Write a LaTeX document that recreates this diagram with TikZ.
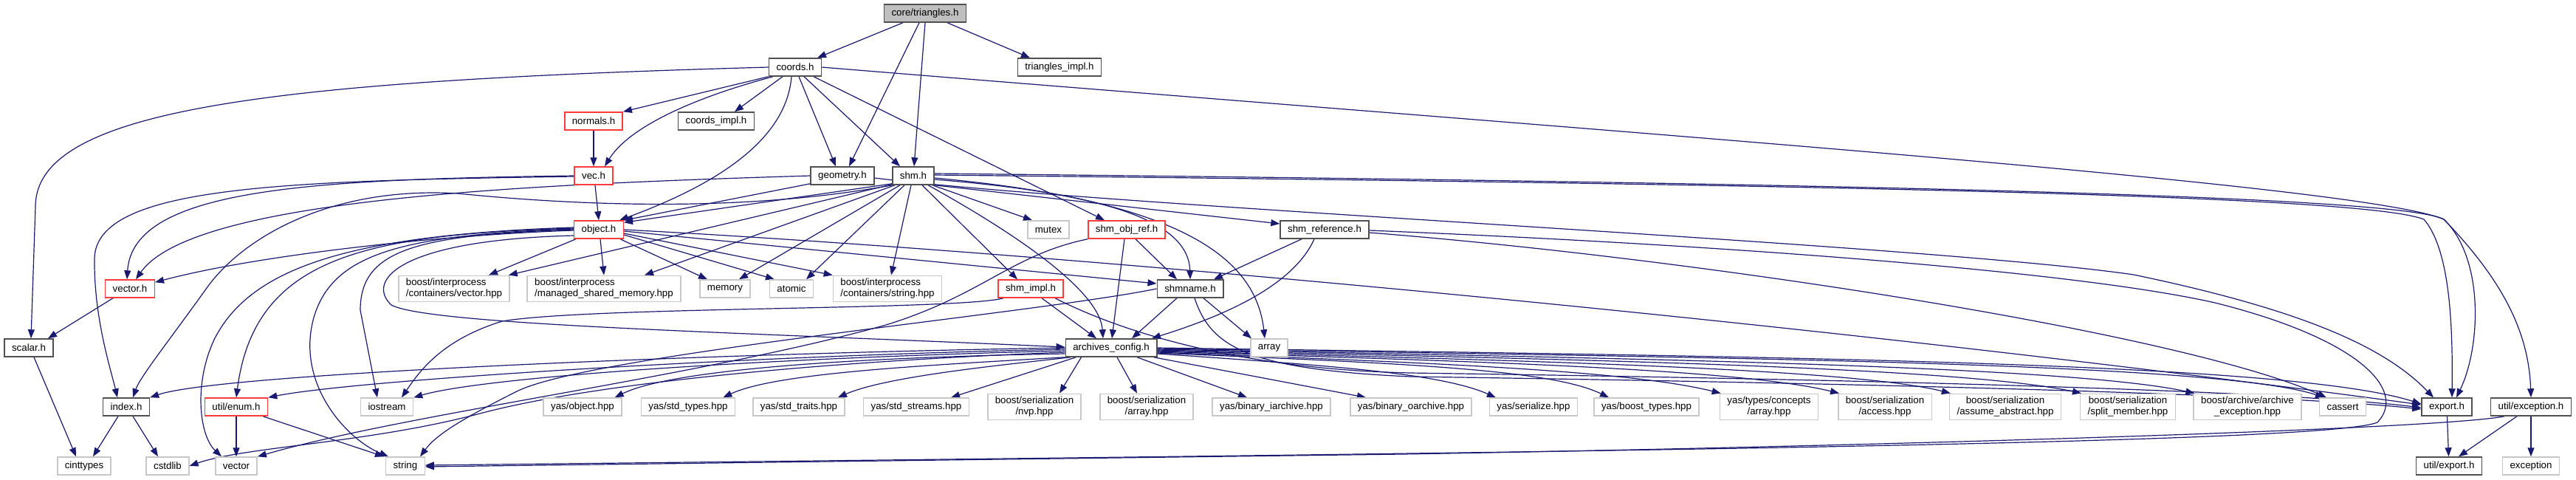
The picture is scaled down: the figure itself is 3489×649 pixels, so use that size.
\documentclass[tikz,border=0pt]{standalone}
\usepackage{fontspec}
\setmainfont{Liberation Sans}
\usetikzlibrary{arrows.meta,backgrounds}
\definecolor{edgec}{RGB}{25,25,112}
\definecolor{nbord}{RGB}{80,80,80}
\definecolor{rbord}{RGB}{255,60,60}
\definecolor{gbord}{RGB}{200,200,200}
\definecolor{rootfill}{RGB}{191,191,191}
\begin{document}
\begin{tikzpicture}[x=1pt,y=-1pt,
  nb/.style={draw=nbord, line width=1.5pt, fill=white, inner xsep=10pt, inner ysep=4pt, minimum height=24pt, font=\fontsize{13.3}{15}\selectfont, align=center},
  rb/.style={nb, draw=rbord},
  gb/.style={nb, draw=gbord},
  gbl/.style={gb, align=left},
  rootb/.style={nb, fill=rootfill},
  ed/.style={draw=edgec, line width=1.2pt, -{Triangle[length=12pt,width=9pt]}},
]
\useasboundingbox (0,0) rectangle (3489,649);
% nodes
\node[rootb] (root) at (1253,18) {core/triangles.h};
\node[nb] (coords) at (1077,91) {coords.h};
\node[nb] (timpl) at (1435,91) {triangles\_impl.h};
\node[rb] (normals) at (804,164) {normals.h};
\node[nb] (cimpl) at (970,164) {coords\_impl.h};
\node[rb] (vec) at (804,238) {vec.h};
\node[nb] (geom) at (1141,238) {geometry.h};
\node[nb] (shm) at (1237,238) {shm.h};
\node[rb] (object) at (811,311) {object.h};
\node[gb] (mutex) at (1420,311) {mutex};
\node[rb] (shmobj) at (1526,311) {shm\_obj\_ref.h};
\node[nb] (shmref) at (1794,311) {shm\_reference.h};
\node[rb] (vectorh) at (176,391) {vector.h};
\node[gbl] (bvec) at (615,391) {boost/interprocess\\/containers/vector.hpp};
\node[gbl] (bmsm) at (818,391) {boost/interprocess\\/managed\_shared\_memory.hpp};
\node[gb] (memory) at (982,391) {memory};
\node[gb] (atomic) at (1072,391) {atomic};
\node[gbl] (bstr) at (1202,391) {boost/interprocess\\/containers/string.hpp};
\node[rb] (shmimpl) at (1396,391) {shm\_impl.h};
\node[nb] (shmname) at (1612,391) {shmname.h};
\node[nb] (scalar) at (39,471) {scalar.h};
\node[nb] (archcfg) at (1505,471) {archives\_config.h};
\node[gb] (array) at (1719,471) {array};
\node[nb] (index) at (171,551) {index.h};
\node[rb] (uenum) at (320,551) {util/enum.h};
\node[gb] (iostream) at (524,551) {iostream};
\node[gb] (yobj) at (789,551) {yas/object.hpp};
\node[gb] (ystdt) at (932,551) {yas/std\_types.hpp};
\node[gb] (ystdtr) at (1082,551) {yas/std\_traits.hpp};
\node[gb] (ystds) at (1241,551) {yas/std\_streams.hpp};
\node[gb] (bnvp) at (1401,551) {boost/serialization\\/nvp.hpp};
\node[gb] (barr) at (1553,551) {boost/serialization\\/array.hpp};
\node[gb] (ybi) at (1722,551) {yas/binary\_iarchive.hpp};
\node[gb] (ybo) at (1911,551) {yas/binary\_oarchive.hpp};
\node[gb] (yser) at (2077,551) {yas/serialize.hpp};
\node[gb] (ybt) at (2230,551) {yas/boost\_types.hpp};
\node[gb] (ytca) at (2396,551) {yas/types/concepts\\/array.hpp};
\node[gb] (baa) at (2553,551) {boost/serialization\\/access.hpp};
\node[gb] (bab) at (2716,551) {boost/serialization\\/assume\_abstract.hpp};
\node[gb] (bsm) at (2882,551) {boost/serialization\\/split\_member.hpp};
\node[gb] (bae) at (3044,551) {boost/archive/archive\\\_exception.hpp};
\node[gb] (cassert) at (3173,551) {cassert};
\node[nb] (export) at (3314,551) {export.h};
\node[nb] (uexc) at (3428,551) {util/exception.h};
\node[gb] (cinttypes) at (114,631) {cinttypes};
\node[gb] (cstdlib) at (227,631) {cstdlib};
\node[gb] (vectorstd) at (320,631) {vector};
\node[gb] (string) at (549,631) {string};
\node[nb] (uexport) at (3317,631) {util/export.h};
\node[gb] (exception) at (3428,631) {exception};

\begin{pgfonlayer}{background}
\fill[white] (0,0) rectangle (3489,649);
% root
\draw[ed] ([xshift=-30]root.south) -- ([xshift=30]coords.north);
\draw[ed] ([xshift=-8]root.south) -- ([xshift=9]geom.north);
\draw[ed] (root.south) -- ([xshift=1]shm.north);
\draw[ed] ([xshift=30]root.south) -- ([xshift=-40]timpl.north);
% coords
\draw[ed] (coords.west) .. controls (350,110) and (48,150) .. (48,280) -- ([xshift=3]scalar.north);
\draw[ed] (coords.south west) -- (normals.north east);
\draw[ed] ([xshift=-17]coords.south) -- ([xshift=25]cimpl.north);
\draw[ed] ([xshift=-30]coords.south) .. controls (930,135) and (850,175) .. ([xshift=15]vec.north);
\draw[ed] ([xshift=-5]coords.south) .. controls (1065,190) and (970,250) .. ([xshift=-6]object.north east);
\draw[ed] ([xshift=5]coords.south) -- ([xshift=-9]geom.north);
\draw[ed] ([xshift=12]coords.south) -- ([xshift=-18]shm.north);
\draw[ed] ([xshift=25]coords.south) -- ([xshift=-30]shmobj.north);
\draw[ed] (coords.east) .. controls (2200,180) and (3200,250) .. (3310,297) .. controls (3365,350) and (3360,470) .. ([xshift=13]export.north);
% normals, vec
\draw[ed] (normals) -- (vec);
\draw[ed] ([xshift=2]vec.south) -- (object.north);
\draw[ed] (vec.west) .. controls (420,243) and (180,255) .. ([xshift=-4]vectorh.north);
\draw[ed] ([yshift=-1]vec.west) .. controls (380,245) and (130,252) .. (128,350) .. controls (127,430) and (150,500) .. ([xshift=-12]index.north);
% geometry
\draw[ed] (geom.west) .. controls (700,250) and (260,270) .. ([xshift=8]vectorh.north);
\draw[ed] ([yshift=2]geom.south west) -- (object.north east);
\draw[ed] ([yshift=-3]geom.east) .. controls (1500,280) and (2600,330) .. (2890,372) .. controls (3120,420) and (3230,470) .. ([xshift=-18]export.north);
% shm
\draw[ed] ([yshift=2]shm.south west) -- ([yshift=-3]object.north east);
\draw[ed] (shm.south west) .. controls (1050,280) and (850,285) .. (620,262) .. controls (450,252) and (330,320) .. (280,390) .. controls (230,460) and (190,510) .. ([xshift=9]index.north);
\draw[ed] ([yshift=1]shm.south west) -- ([xshift=-2]bvec.north east);
\draw[ed] ([xshift=-25]shm.south) -- ([xshift=55]bmsm.north);
\draw[ed] ([xshift=-18]shm.south) -- ([xshift=19]memory.north);
\draw[ed] ([xshift=-12]shm.south) -- ([xshift=20]atomic.north);
\draw[ed] ([xshift=-3]shm.south) -- ([xshift=5]bstr.north);
\draw[ed] ([xshift=12]shm.south) -- ([xshift=-18]shmimpl.north);
\draw[ed] ([xshift=20]shm.south) .. controls (1400,330) and (1490,400) .. ([xshift=-11]archcfg.north);
\draw[ed] ([xshift=-3]shm.south east) -- ([xshift=-22]mutex.north);
\draw[ed] (shm.south east) -- ([yshift=8]shmref.west);
\draw[ed] ([yshift=-5]shm.east) .. controls (1500,262) and (1610,300) .. (shmname.north);
\draw[ed] ([yshift=-3]shm.east) .. controls (1580,270) and (1700,340) .. ([xshift=-6]array.north);
\draw[ed] ([yshift=1]shm.east) .. controls (2500,250) and (3200,265) .. (3283,297) .. controls (3320,340) and (3322,450) .. ([xshift=7]export.north);
\draw[ed] ([yshift=3]shm.east) .. controls (2500,248) and (3250,265) .. (3310,297) .. controls (3390,380) and (3425,450) .. (uexc.north);
% object
\draw[ed] ([yshift=-1]object.west) .. controls (600,318) and (350,345) .. ([yshift=-4]vectorh.north east);
\draw[ed] ([xshift=3]object.south west) -- ([xshift=47]bvec.north);
\draw[ed] ([xshift=2]object.south) -- (bmsm.north);
\draw[ed] ([xshift=-5]object.south east) -- ([xshift=-24]memory.north);
\draw[ed] ([yshift=-7]object.east) -- ([xshift=-23]atomic.north);
\draw[ed] ([yshift=-5]object.east) -- (bstr.north west);
\draw[ed] ([yshift=-2]object.east) -- ([yshift=7]shmname.west);
\draw[ed] (object.east) .. controls (1400,340) and (2400,430) .. ([yshift=3]export.west);
\draw[ed] ([yshift=-8]object.west) .. controls (540,325) and (495,380) .. (530,413) .. controls (580,440) and (1000,450) .. ([yshift=1]archcfg.west);
\draw[ed] (object.west) .. controls (560,318) and (488,340) .. (488,420) -- ([xshift=-13]iostream.north);
\draw[ed] ([yshift=1]object.west) .. controls (540,318) and (450,345) .. (425,430) .. controls (400,520) and (470,595) .. ([xshift=4]string.north west);
\draw[ed] ([yshift=2]object.west) .. controls (500,318) and (345,345) .. (uenum.north);
\draw[ed] ([yshift=3]object.west) .. controls (480,318) and (340,360) .. (290,460) .. controls (262,520) and (270,590) .. ([xshift=-20]vectorstd.north);
% shm_obj_ref
\draw[ed] ([xshift=-3]shmobj.south) -- ([xshift=1]archcfg.north);
\draw[ed] ([xshift=12]shmobj.south) -- ([xshift=-18]shmname.north);
\draw[ed] (shmobj.south west) .. controls (1370,345) and (1330,400) .. (1200,440) .. controls (950,510) and (550,560) .. (vectorstd.north east);
% shm_impl
\draw[ed] ([xshift=15]shmimpl.south) -- ([xshift=-20]archcfg.north);
\draw[ed] ([xshift=-37]shmimpl.south) .. controls (1300,420) and (800,415) .. (680,435) .. controls (600,460) and (570,500) .. ([xshift=20]iostream.north);
\draw[ed] ([xshift=33]shmimpl.south) .. controls (1520,450) and (1680,500) .. (1910,505) .. controls (2600,515) and (3100,530) .. ([yshift=-1]export.west);
% shmname
\draw[ed] ([xshift=-18]shmname.south) -- ([xshift=28]archcfg.north);
\draw[ed] ([xshift=18]shmname.south) -- ([xshift=-24]array.north);
\draw[ed] ([xshift=6]shmname.south) .. controls (1640,470) and (1690,500) .. (1910,510) .. controls (2600,520) and (3100,535) .. ([yshift=-3]export.west);
\draw[ed] (shmname.west) .. controls (1400,425) and (800,480) .. (700,530) .. controls (620,570) and (590,590) .. ([xshift=20]string.north);
% shm_reference
\draw[ed] ([xshift=-31]shmref.south) -- ([xshift=32]shmname.north);
\draw[ed] ([xshift=-14]shmref.south) .. controls (1750,390) and (1650,430) .. ([xshift=55]archcfg.north);
\draw[ed] ([yshift=-1]shmref.east) .. controls (2300,330) and (2800,365) .. (3000,410) .. controls (3200,460) and (3260,530) .. (3220,572) .. controls (3150,600) and (2200,612) .. ([yshift=1]string.east);
\draw[ed] ([yshift=-4]shmref.east) .. controls (2300,350) and (2950,450) .. ([xshift=-22]cassert.north);
% right side
\draw[ed] (export) -- (uexport);
\draw[ed] ([xshift=-19]uexc.south) -- ([xshift=13]uexport.north);
\draw[ed] (uexc) -- (exception);
\draw[ed] ([xshift=-36]uexc.south) .. controls (3300,582) and (2500,605) .. (1900,615) -- ([yshift=-1]string.east);
% left side
\draw[ed] ([xshift=-23]vectorh.south) -- ([xshift=26]scalar.north);
\draw[ed] ([xshift=7]scalar.south) -- ([xshift=-11]cinttypes.north);
\draw[ed] ([xshift=-11]index.south) -- ([xshift=12]cinttypes.north);
\draw[ed] ([xshift=9]index.south) -- ([xshift=-13]cstdlib.north);
\draw[ed] (uenum) -- (vectorstd);
\draw[ed] ([xshift=36]uenum.south) -- ([xshift=-29]string.north);
% archives_config to the left
\draw[ed] (archcfg.west) .. controls (1000,478) and (300,505) .. (index.north east);
\draw[ed] ([yshift=-2]archcfg.west) .. controls (1000,482) and (480,515) .. (uenum.north east);
\draw[ed] ([yshift=-4]archcfg.west) .. controls (1000,486) and (650,512) .. (iostream.north east);
\draw[ed] ([yshift=-6]archcfg.west) .. controls (1100,490) and (800,520) .. (650,560) .. controls (500,600) and (330,605) .. (cstdlib.east);
\draw[ed] ([yshift=-8]archcfg.west) .. controls (1100,485) and (900,505) .. ([xshift=-10]yobj.north east);
\draw[ed] (archcfg.south west) .. controls (1250,495) and (1050,505) .. ([xshift=-17]ystdt.north east);
\draw[ed] ([xshift=8]archcfg.south west) .. controls (1350,495) and (1200,510) .. ([xshift=-10]ystdtr.north east);
\draw[ed] ([xshift=15]archcfg.south west) -- ([xshift=-25]ystds.north east);
\draw[ed] ([xshift=22]archcfg.south west) -- ([xshift=34]bnvp.north);
\draw[ed] ([xshift=8]archcfg.south) -- ([xshift=-13]barr.north);
\draw[ed] ([xshift=35]archcfg.south) -- ([xshift=-33]ybi.north);
\draw[ed] ([xshift=-5]archcfg.south east) -- ([xshift=-61]ybo.north);
% archives_config to the right
\draw[ed] ([yshift=-8]archcfg.east) .. controls (1800,495) and (1950,505) .. ([xshift=-51]yser.north);
\draw[ed] ([yshift=-7]archcfg.east) .. controls (1900,492) and (2100,500) .. ([xshift=-51]ybt.north);
\draw[ed] ([yshift=-6]archcfg.east) .. controls (1900,490) and (2200,500) .. ([xshift=2]ytca.north west);
\draw[ed] ([yshift=-5]archcfg.east) .. controls (1950,488) and (2350,498) .. ([xshift=2]baa.north west);
\draw[ed] ([yshift=-4]archcfg.east) .. controls (2000,487) and (2500,497) .. ([xshift=2]bab.north west);
\draw[ed] ([yshift=-3]archcfg.east) .. controls (2100,486) and (2650,496) .. ([xshift=2]bsm.north west);
\draw[ed] ([yshift=-2]archcfg.east) .. controls (2200,485) and (2800,495) .. ([xshift=2]bae.north west);
\draw[ed] ([yshift=-1]archcfg.east) .. controls (2300,484) and (3000,490) .. ([xshift=-25]cassert.north);
\draw[ed] (archcfg.east) .. controls (2400,483) and (3100,490) .. ([yshift=4]export.west);
\end{pgfonlayer}
\end{tikzpicture}
\end{document}
